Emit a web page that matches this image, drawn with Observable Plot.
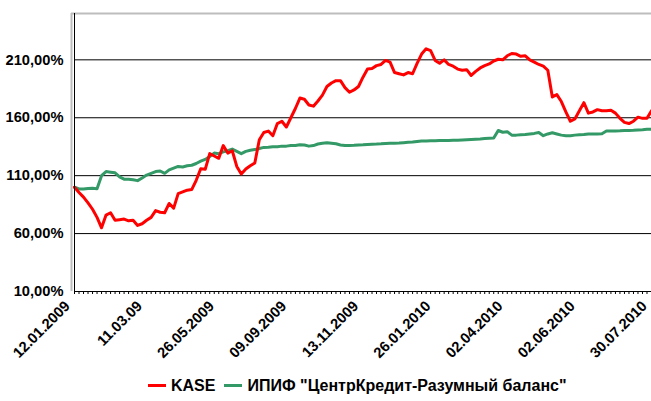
<!DOCTYPE html>
<html><head><meta charset="utf-8">
<script src="https://cdn.jsdelivr.net/npm/d3@7"></script>
<script src="https://cdn.jsdelivr.net/npm/@observablehq/plot@0.6"></script>
<style>
html,body{margin:0;padding:0;background:#fff;}
body{width:651px;height:401px;overflow:hidden;font-family:"Liberation Sans",Arial,sans-serif;}
#legend{display:flex;align-items:center;height:31px;padding-left:148px;font-weight:bold;font-size:16px;color:#000;white-space:nowrap;}
#legend .sw{display:inline-block;width:18px;height:3px;margin-right:5px;}
#legend .item{display:flex;align-items:center;margin-right:9px;}
</style></head><body>
<div id="chart"></div>
<div id="legend"></div>
<script>
const seriesNames = ["KASE", "ИПИФ \"ЦентрКредит-Разумный баланс\""];
const seriesColors = ["#ff0000", "#339966"];
const kase = [100,95.5,91.5,86.5,81,74,65,76,78,71.5,72,72.5,71,71.5,67,68.5,71.5,74,79.8,78.4,78,86,82,94.5,96,97.5,98,106,116,115.5,129,127,125,136,129.5,131.5,118,111.5,115.8,118.6,121,141,147.3,148.5,144.5,155,157,152,160,168,177,176,171,170,174.5,179.5,187,190,192,192,186,182,184,187,195,202,202.5,205,206,209.5,208,199,198,197,199,198,207,215,219.5,218,209.5,207,210,206,204.5,202,201,201.5,196.5,200,203,205,206.5,209,210.5,210,213.5,215.5,215,213,213.5,210,208,206,204.5,201,178,180,174,165,157,159,166,173,164,165,167,166,166,166.5,164,159.5,156,155,157,160.5,159.5,159.5,166];
const fund = [100,98.5,98.5,99,99.2,98.8,110,113.5,113,112.5,109,107,107,106.5,105.7,108,110.5,112,113.5,114,112,115,116.5,118,117.5,118.5,119,120.5,122.5,124,126.5,129.5,129,130.5,131.5,133,131,129,131,132,132.5,133.5,134.4,134.5,135,135,135.5,135.5,136,136,136.7,136.5,135.5,136,137.3,138,138.5,138,137.5,136.5,136,136,136.2,136.5,136.7,137,137.2,137.3,137.5,137.8,138,138,138.2,138.5,138.8,139,139.5,140,140,140.2,140.2,140.3,140.3,140.4,140.5,140.6,140.8,141,141.2,141.4,141.6,142,142.3,142.6,149,147.5,148,145,145,145.3,145.5,146,146.5,147.3,144.5,146,147,146,145,144.5,144.5,145,145.3,145.5,146,146,146,146.2,148.5,148.5,148.5,148.7,149,149,149.2,149.5,149.7,150,150.2];
const tickIndex = [0,16,32,48,64,80,96,112,128];
const tickLabels = ["12.01.2009","11.03.09","26.05.2009","09.09.2009","13.11.2009","26.01.2010","02.04.2010","02.06.2010","30.07.2010"];
const yTicks = [10,60,110,160,210];
const yDomain = [10,250];

const rows = [];
fund.forEach((v,i)=>rows.push({i, v, s: seriesNames[1]}));
kase.forEach((v,i)=>rows.push({i, v, s: seriesNames[0]}));
const last = kase.length - 1;
const fmtY = d => d.toFixed(2).replace(".", ",") + "%";
const font = '"Liberation Sans", Arial, sans-serif';

const chart = Plot.plot({
  width: 651, height: 370,
  marginLeft: 74, marginRight: 0, marginTop: 13, marginBottom: 79,
  style: {fontFamily: font, background: "#fff", overflow: "visible"},
  x: {domain: [0, last]},
  y: {domain: yDomain, axis: null},
  color: {domain: seriesNames, range: seriesColors},
  marks: [
    Plot.ruleY(yTicks.slice(1), {stroke: "#000", strokeWidth: 1}),
    Plot.ruleY([yDomain[1]], {x1: -0.67, x2: last, stroke: "#bdbdbd", strokeWidth: 2}),
    Plot.ruleX([0], {y1: yDomain[0], y2: yDomain[1], stroke: "#bdbdbd", strokeWidth: 2, dx: -3}),
    Plot.line(rows, {x: "i", y: "v", z: "s", stroke: "s", strokeWidth: 3}),
    Plot.ruleX([0], {y1: yDomain[0], y2: yDomain[1], stroke: "#000", strokeWidth: 1}),
    Plot.ruleY([yDomain[0]], {stroke: "#000", strokeWidth: 1}),
    Plot.axisX({ticks: d3.range(0, last + 1), tickSize: 3, tickFormat: () => "", label: null}),
    Plot.text(yTicks, {x: () => 0, y: d => d, text: fmtY, textAnchor: "end", dx: -11, fontSize: 14.7, fontWeight: "bold", fontFamily: font, fill: "#000"}),
    Plot.text(tickIndex, {x: d => d, y: () => yDomain[0], text: (d, k) => tickLabels[k], textAnchor: "end", rotate: -45, dx: -11, dy: 8, fontSize: 14.7, fontWeight: "bold", fontFamily: font, fill: "#000", lineAnchor: "top"})
  ]
});
document.getElementById("chart").appendChild(chart);

const legend = document.getElementById("legend");
seriesNames.forEach((n, k) => {
  const it = document.createElement("span");
  it.className = "item";
  const sw = document.createElement("span");
  sw.className = "sw";
  sw.style.background = seriesColors[k];
  it.appendChild(sw);
  it.appendChild(document.createTextNode(n));
  legend.appendChild(it);
});
</script>
</body></html>
